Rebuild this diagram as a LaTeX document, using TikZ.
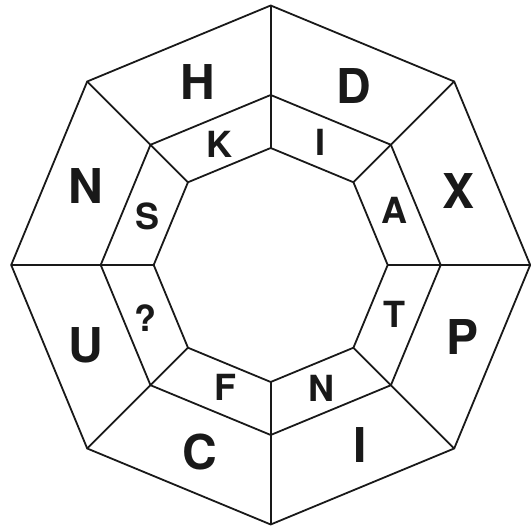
\documentclass[tikz,border=0pt]{standalone}
\usepackage{fontspec}
\setmainfont{TeX Gyre Heros}
\usetikzlibrary{calc}
\tikzset{
  edge/.style={line width=1.8pt, line join=miter, color=black!90},
  big/.style={font=\bfseries\fontsize{48}{48}\selectfont, inner sep=0pt, text=black!90},
  small/.style={font=\bfseries\fontsize{36}{36}\selectfont, inner sep=0pt, text=black!90}
}
\begin{document}
\begin{tikzpicture}[x=1pt,y=1pt]
\useasboundingbox (0,0) rectangle (531,526);
\coordinate (c) at (270.7,261);
\foreach \k in {0,...,7}{
  \coordinate (o\k) at ($(c)+(\k*45:259.5)$);
  \coordinate (m\k) at ($(c)+(\k*45:170)$);
  \coordinate (i\k) at ($(c)+(\k*45:117)$);
}
\draw[edge] (o0)--(o1)--(o2)--(o3)--(o4)--(o5)--(o6)--(o7)--cycle;
\draw[edge] (m0)--(m1)--(m2)--(m3)--(m4)--(m5)--(m6)--(m7)--cycle;
\draw[edge] (i0)--(i1)--(i2)--(i3)--(i4)--(i5)--(i6)--(i7)--cycle;
\foreach \k in {0,...,7}{ \draw[edge] (i\k)--(o\k); }
% outer letters
\node[big] (H) at (198,444) {H};
\node[big] (D) at (353.7,440) {D};
\node[big] (X) at (459,334.5) {X};
\node[big] (P) at (463,188.5) {P};
\node[big] (I1) at (360,80.5) {I};
\node[big] (C) at (200,74) {C};
\node[big] (U) at (86,181) {U};
\node[big] (N1) at (86,339.5) {N};
% inner letters
\node[small] (K) at (219,382) {K};
\node[small] (I2) at (320.5,383.5) {I};
\node[small] (A) at (394.5,315.5) {A};
\node[small] (T) at (394,212) {T};
\node[small] (N2) at (321.7,138) {N};
\node[small] (F) at (225.7,138.5) {F};
\node[small] (Q) at (145.5,208) {?};
\node[small] (S) at (147.5,310) {S};
\end{tikzpicture}
\end{document}
